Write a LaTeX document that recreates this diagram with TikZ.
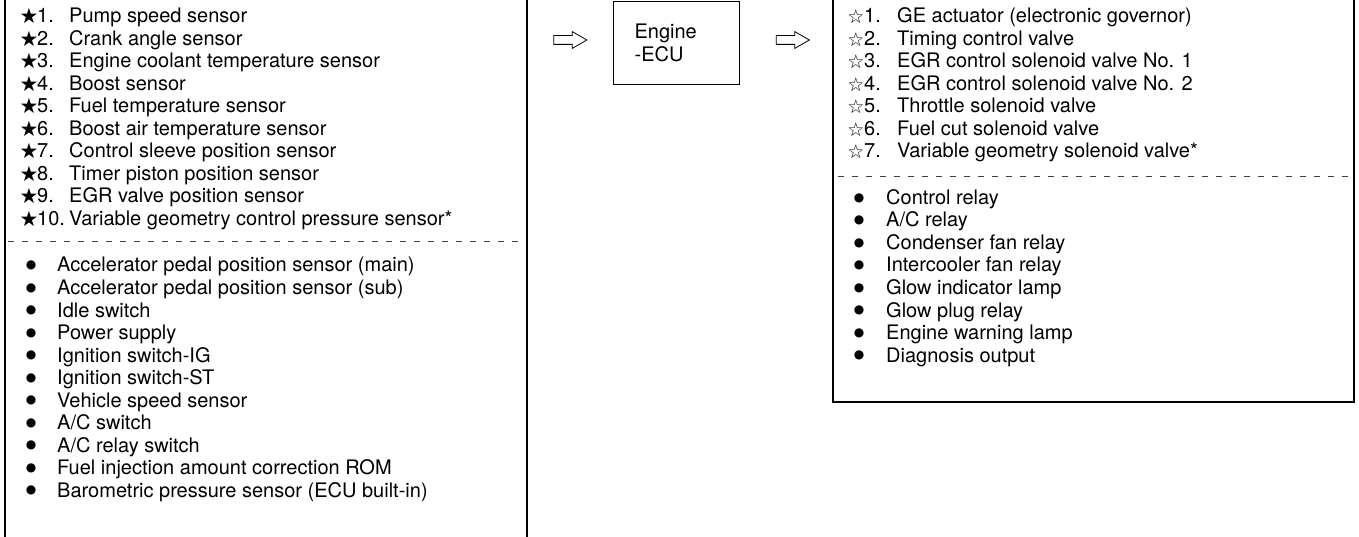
\documentclass[tikz,border=0pt]{standalone}
\usepackage{fontspec}
\setmainfont{TeX Gyre Heros}
\newfontfamily\symfont{DejaVu Sans}
\usetikzlibrary{shapes.arrows}
\begin{document}
\begin{tikzpicture}[x=1pt,y=-1pt,
  box/.style={draw, line width=1.2pt},
  txt/.style={anchor=base west, inner sep=0pt, font=\fontsize{20}{23}\selectfont},
  bstar/.style={anchor=base, inner sep=0pt, font=\symfont\fontsize{21}{22}\selectfont},
  wstar/.style={anchor=base, inner sep=0pt, font=\symfont\fontsize{19}{20}\selectfont},
  dot/.style={anchor=center, inner sep=0pt, font=\symfont\fontsize{12}{13}\selectfont},
  sep/.style={draw=black!75, line width=0.8pt, dash pattern=on 6pt off 8pt},
  blockarrow/.style={single arrow, draw, line width=0.8pt, minimum height=33pt,
    inner sep=4pt, single arrow head extend=4pt, single arrow tip angle=60}]
\useasboundingbox (0,0) rectangle (1359,537);
% left box
\coordinate (lt) at (5,-2); \coordinate (lb) at (5,540);
\coordinate (rt) at (527,-2); \coordinate (rb) at (527,540);
\draw[box] (lt) -- (lb);
\draw[box] (rt) -- (rb);
% right box
\coordinate (Rlt) at (833,-2); \coordinate (Rlb) at (833,402);
\coordinate (Rrb) at (1354,402); \coordinate (Rrt) at (1354,-2);
\draw[box] (Rlt) -- (Rlb) -- (Rrb) -- (Rrt);
% ECU
\node[box, anchor=north west, minimum width=126pt, minimum height=83pt, text width=84pt,
  inner xsep=21pt, align=left, font=\fontsize{20}{23}\selectfont] (ecu) at (613,1) {Engine\\-ECU};
% arrows
\node[blockarrow] (a1) at (566.5,40) {};
\node[blockarrow] (a2) at (789,40) {};
% left star list
\foreach \t [count=\i] in {Pump speed sensor, Crank angle sensor, Engine coolant temperature sensor,
  Boost sensor, Fuel temperature sensor, Boost air temperature sensor, Control sleeve position sensor,
  Timer piston position sensor, EGR valve position sensor, Variable geometry control pressure sensor*} {
  \pgfmathsetmacro\yy{23+(\i-1)*22.5}
  \node[bstar] (ls\i) at (29,\yy+1) {★};
  \node[txt] (ln\i) at (37,\yy) {\i.};
  \node[txt] (lx\i) at (69,\yy) {\t};
}
\coordinate (ld1) at (8,241.5); \coordinate (ld2) at (522,241.5);
\draw[sep] (ld1) -- (ld2);
\foreach \t [count=\i] in {Accelerator pedal position sensor (main), Accelerator pedal position sensor (sub),
  Idle switch, Power supply, Ignition switch-IG, Ignition switch-ST, Vehicle speed sensor, A/C switch,
  A/C relay switch, Fuel injection amount correction ROM, Barometric pressure sensor (ECU built-in)} {
  \pgfmathsetmacro\yy{272+(\i-1)*22.5}
  \node[dot] (lb\i) at (31,\yy-6.5) {●};
  \node[txt] (ly\i) at (57,\yy) {\t};
}
% right star list
\foreach \t [count=\i] in {GE actuator (electronic governor), Timing control valve,
  EGR control solenoid valve No. 1, EGR control solenoid valve No. 2, Throttle solenoid valve,
  Fuel cut solenoid valve, Variable geometry solenoid valve*} {
  \pgfmathsetmacro\yy{23+(\i-1)*22.5}
  \node[wstar] (rs\i) at (856,\yy+1) {☆};
  \node[txt] (rn\i) at (864,\yy) {\i.};
  \node[txt] (rx\i) at (897,\yy) {\t};
}
\coordinate (rd1) at (838,176); \coordinate (rd2) at (1349,176);
\draw[sep] (rd1) -- (rd2);
\foreach \t [count=\i] in {Control relay, A/C relay, Condenser fan relay, Intercooler fan relay,
  Glow indicator lamp, Glow plug relay, Engine warning lamp, Diagnosis output} {
  \pgfmathsetmacro\yy{204.5+(\i-1)*22.5}
  \node[dot] (rb\i) at (859,\yy-6.5) {●};
  \node[txt] (ry\i) at (886,\yy) {\t};
}
\end{tikzpicture}
\end{document}
